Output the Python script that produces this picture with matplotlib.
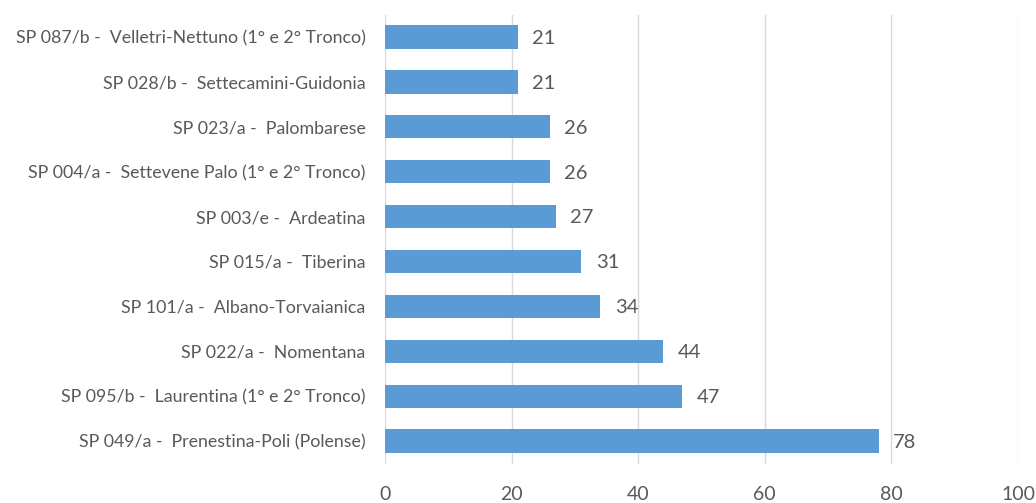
import matplotlib.pyplot as plt

roads = [
    "SP 049/a -  Prenestina-Poli (Polense)",
    "SP 095/b -  Laurentina (1° e 2° Tronco)",
    "SP 022/a -  Nomentana",
    "SP 101/a -  Albano-Torvaianica",
    "SP 015/a -  Tiberina",
    "SP 003/e -  Ardeatina",
    "SP 004/a -  Settevene Palo (1° e 2° Tronco)",
    "SP 023/a -  Palombarese",
    "SP 028/b -  Settecamini-Guidonia",
    "SP 087/b -  Velletri-Nettuno (1° e 2° Tronco)",
]
counts = [78, 47, 44, 34, 31, 27, 26, 26, 21, 21]
xticks = [0, 20, 40, 60, 80, 100]

plt.rcParams["font.family"] = ["Lato", "DejaVu Sans"]
grey = "#595959"

fig = plt.figure(figsize=(10.36, 5.03), dpi=100)
ax = fig.add_axes([0.3716, 0.0785, 0.611, 0.8925])

ypos = range(len(roads))
ax.barh(ypos, counts, height=0.52, color="#5B9BD5", zorder=3)
for y, v in zip(ypos, counts):
    ax.text(v + 2.3, y - 0.03, str(v), va="center", ha="left", fontsize=14.5, color=grey)

ax.set_xlim(0, 100)
ax.set_ylim(-0.5, len(roads) - 0.5)
ax.set_yticks(list(ypos))
ax.set_yticklabels(roads, fontsize=12.8, color=grey)
ax.set_xticks(xticks)
ax.set_xticklabels([str(t) for t in xticks], fontsize=14, color=grey)
ax.tick_params(axis="both", length=0)
ax.tick_params(axis="x", pad=16)
ax.tick_params(axis="y", pad=14)
ax.grid(axis="x", color="#D9D9D9", linewidth=1, zorder=0)
for s in ax.spines.values():
    s.set_visible(False)

fig.savefig("out.png", dpi=100)
